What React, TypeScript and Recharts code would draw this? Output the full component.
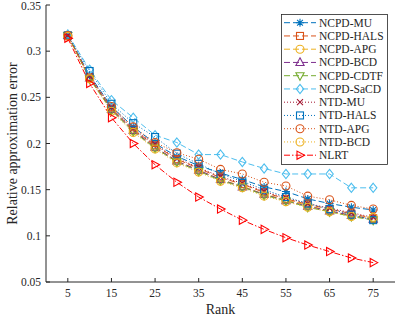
import React from 'react';
import { LineChart, Line, XAxis, YAxis, Legend } from 'recharts';

const ranks = [5, 10, 15, 20, 25, 30, 35, 40, 45, 50, 55, 60, 65, 70, 75];
const xTicks = [5, 15, 25, 35, 45, 55, 65, 75];
const yTicks = [0.05, 0.1, 0.15, 0.2, 0.25, 0.3, 0.35];

const ncpdMU = [0.317, 0.274, 0.240, 0.218, 0.200, 0.186, 0.176, 0.168, 0.161, 0.153, 0.148, 0.140, 0.135, 0.131, 0.128];
const ncpdHALS = [0.317, 0.272, 0.238, 0.215, 0.198, 0.183, 0.173, 0.163, 0.156, 0.147, 0.140, 0.134, 0.129, 0.124, 0.119];
const ncpdAPG = [0.317, 0.271, 0.237, 0.214, 0.196, 0.181, 0.171, 0.161, 0.154, 0.145, 0.139, 0.133, 0.127, 0.122, 0.118];
const ncpdBCD = [0.317, 0.271, 0.237, 0.214, 0.196, 0.181, 0.171, 0.161, 0.153, 0.145, 0.138, 0.132, 0.127, 0.122, 0.118];
const ncpdCDTF = [0.317, 0.270, 0.236, 0.213, 0.195, 0.180, 0.170, 0.160, 0.153, 0.144, 0.138, 0.131, 0.126, 0.121, 0.117];
const ncpdSaCD = [0.318, 0.280, 0.247, 0.228, 0.209, 0.201, 0.188, 0.188, 0.180, 0.173, 0.167, 0.167, 0.167, 0.152, 0.152];
const ntdMU = [0.317, 0.273, 0.239, 0.216, 0.199, 0.184, 0.174, 0.164, 0.157, 0.148, 0.141, 0.135, 0.130, 0.125, 0.120];
const ntdHALS = [0.317, 0.2785, 0.243, 0.222, 0.207, 0.189, 0.178, 0.167, 0.159, 0.150, 0.142, 0.135, 0.129, 0.123, 0.117];
const ntdAPG = [0.317, 0.271, 0.240, 0.218, 0.201, 0.190, 0.183, 0.172, 0.167, 0.158, 0.154, 0.143, 0.139, 0.133, 0.129];
const ntdBCD = [0.316, 0.270, 0.235, 0.212, 0.194, 0.179, 0.169, 0.159, 0.152, 0.143, 0.137, 0.131, 0.126, 0.121, 0.120];
const nlrt = [0.314, 0.265, 0.228, 0.200, 0.177, 0.158, 0.142, 0.129, 0.117, 0.107, 0.098, 0.090, 0.083, 0.076, 0.071];

const DASH = '6 3';
const DOT = '1 2';
const DASHDOT = '6 2 1.5 2';

const seriesDefs = [
  { key: 'NCPD-MU', values: ncpdMU, color: '#0072BD', dash: DASH, marker: 'star' },
  { key: 'NCPD-HALS', values: ncpdHALS, color: '#D95319', dash: DASH, marker: 'square' },
  { key: 'NCPD-APG', values: ncpdAPG, color: '#EDB120', dash: DASH, marker: 'circle' },
  { key: 'NCPD-BCD', values: ncpdBCD, color: '#7E2F8E', dash: DASH, marker: 'triUp' },
  { key: 'NCPD-CDTF', values: ncpdCDTF, color: '#77AC30', dash: DASH, marker: 'triDown' },
  { key: 'NCPD-SaCD', values: ncpdSaCD, color: '#4DBEEE', dash: DASH, marker: 'diamond' },
  { key: 'NTD-MU', values: ntdMU, color: '#A2142F', dash: DOT, marker: 'x' },
  { key: 'NTD-HALS', values: ntdHALS, color: '#0072BD', dash: DOT, marker: 'square' },
  { key: 'NTD-APG', values: ntdAPG, color: '#D95319', dash: DOT, marker: 'circle' },
  { key: 'NTD-BCD', values: ntdBCD, color: '#EDB120', dash: DOT, marker: 'circle' },
  { key: 'NLRT', values: nlrt, color: '#FF0000', dash: DASHDOT, marker: 'triRight' },
];

const data = ranks.map((r, i) => {
  const row: Record<string, number> = { rank: r };
  seriesDefs.forEach((s) => {
    row[s.key] = s.values[i];
  });
  return row;
});

const FONT = 'Liberation Serif';
const AXIS = '#262626';

function Marker({ shape, cx, cy, color }: { shape: string; cx: number; cy: number; color: string }) {
  const r = 4;
  const common = { fill: 'none', stroke: color, strokeWidth: 1.1 };
  switch (shape) {
    case 'circle':
      return <circle cx={cx} cy={cy} r={r} {...common} />;
    case 'square':
      return <rect x={cx - 3.5} y={cy - 3.5} width={7} height={7} {...common} />;
    case 'diamond':
      return <path d={`M${cx},${cy - 4.6}L${cx + 3.7},${cy}L${cx},${cy + 4.6}L${cx - 3.7},${cy}Z`} {...common} />;
    case 'triUp':
      return <path d={`M${cx},${cy - 4.6}L${cx + 4.1},${cy + 3}L${cx - 4.1},${cy + 3}Z`} {...common} />;
    case 'triDown':
      return <path d={`M${cx},${cy + 4.6}L${cx + 4.1},${cy - 3}L${cx - 4.1},${cy - 3}Z`} {...common} />;
    case 'triRight':
      return <path d={`M${cx + 4.6},${cy}L${cx - 3},${cy - 4.1}L${cx - 3},${cy + 4.1}Z`} {...common} />;
    case 'x':
      return (
        <path d={`M${cx - 3},${cy - 3}L${cx + 3},${cy + 3}M${cx - 3},${cy + 3}L${cx + 3},${cy - 3}`} {...common} />
      );
    case 'star':
    default:
      return (
        <path
          d={`M${cx - 4},${cy}L${cx + 4},${cy}M${cx},${cy - 4}L${cx},${cy + 4}M${cx - 2.9},${cy - 2.9}L${cx + 2.9},${cy + 2.9}M${cx - 2.9},${cy + 2.9}L${cx + 2.9},${cy - 2.9}`}
          {...common}
        />
      );
  }
}

function LegendBox() {
  const rowH = 13.25;
  return (
    <svg width={107} height={151} style={{ display: 'block' }}>
      <rect x={0.5} y={0.5} width={106} height={150} fill="#fff" stroke={AXIS} strokeWidth={0.8} />
      {seriesDefs.map((s, i) => {
        const y = 8.7 + i * rowH;
        return (
          <g key={s.key}>
            <line x1={3} y1={y} x2={35} y2={y} stroke={s.color} strokeWidth={1} strokeDasharray={s.dash} />
            <Marker shape={s.marker} cx={19} cy={y} color={s.color} />
            <text x={38} y={y} dy="0.35em" fontSize={11.5} fontFamily={FONT} fill={AXIS}>
              {s.key}
            </text>
          </g>
        );
      })}
    </svg>
  );
}

const fmt = (v: number) => String(Number(v.toFixed(2)));

export default function App() {
  return (
    <div style={{ position: 'absolute', left: 0, top: 0 }}>
      <LineChart width={399} height={317} data={data} margin={{ top: 5, right: 4, bottom: 0, left: 0 }}>
        <XAxis
          dataKey="rank"
          type="number"
          domain={[0, 80]}
          ticks={xTicks}
          height={35}
          tickSize={-4}
          tickMargin={11}
          stroke={AXIS}
          tick={{ fill: AXIS, fontSize: 11.5, fontFamily: FONT }}
          label={{ value: 'Rank', position: 'insideBottom', offset: 3, fill: AXIS, fontSize: 14, fontFamily: FONT }}
        />
        <XAxis
          xAxisId="top"
          orientation="top"
          dataKey="rank"
          type="number"
          domain={[0, 80]}
          ticks={xTicks}
          height={0}
          tickSize={-4}
          stroke={AXIS}
          tickFormatter={() => ''}
        />
        <YAxis
          type="number"
          domain={[0.05, 0.35]}
          ticks={yTicks}
          width={46}
          tickSize={-4}
          tickMargin={9}
          stroke={AXIS}
          tickFormatter={fmt}
          tick={{ fill: AXIS, fontSize: 11.5, fontFamily: FONT }}
          label={{
            value: 'Relative approximation error',
            angle: -90,
            position: 'insideLeft',
            offset: 12,
            fill: AXIS,
            fontSize: 14,
            fontFamily: FONT,
            style: { textAnchor: 'middle' },
          }}
        />
        <YAxis
          yAxisId="right"
          orientation="right"
          type="number"
          domain={[0.05, 0.35]}
          ticks={yTicks}
          width={0}
          tickSize={-4}
          stroke={AXIS}
          tickFormatter={() => ''}
        />
        {seriesDefs.map((s) => (
          <Line
            key={s.key}
            dataKey={s.key}
            stroke={s.color}
            strokeWidth={1}
            strokeDasharray={s.dash}
            isAnimationActive={false}
            dot={(p: any) => <Marker key={`${s.key}-${p.index}`} shape={s.marker} cx={p.cx} cy={p.cy} color={s.color} />}
            activeDot={false}
          />
        ))}
        <Legend
          layout="vertical"
          align="center"
          verticalAlign="middle"
          content={() => <LegendBox />}
          wrapperStyle={{ position: 'absolute', left: 281, top: 14, width: 107, height: 151 }}
        />
      </LineChart>
    </div>
  );
}
